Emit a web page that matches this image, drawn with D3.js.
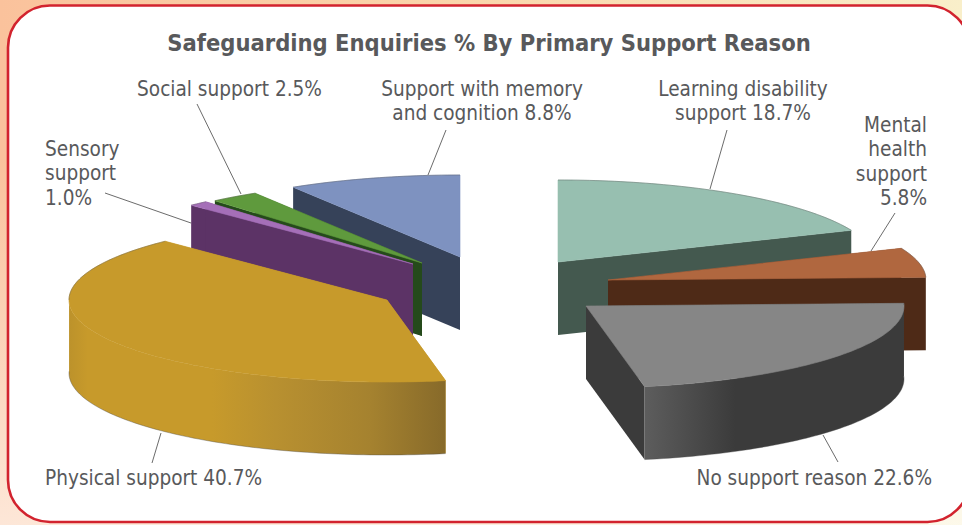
<!DOCTYPE html>
<html>
<head>
<meta charset="utf-8">
<title>Safeguarding Enquiries % By Primary Support Reason</title>
<script src="https://cdn.jsdelivr.net/npm/d3@7"></script>
<style>
  html, body { margin: 0; padding: 0; background: #fff; }
  svg { display: block; }
  text { font-family: "DejaVu Sans", Verdana, sans-serif; font-stretch: condensed; fill: #58595b; }
</style>
</head>
<body>
<svg id="chart" width="962" height="525"></svg>
<script>
// Slice values, clockwise from twelve o'clock
const categories = [
  "Learning disability support",
  "Mental health support",
  "No support reason",
  "Physical support",
  "Sensory support",
  "Social support",
  "Support with memory and cognition"
];
const percentages = [18.7, 5.8, 22.6, 40.7, 1.0, 2.5, 8.8];
const chartTitle = "Safeguarding Enquiries % By Primary Support Reason";

// Label text broken into the lines it is set on
const labelLines = [
  ["Learning disability", "support 18.7%"],
  ["Mental", "health", "support", "5.8%"],
  ["No support reason 22.6%"],
  ["Physical support 40.7%"],
  ["Sensory", "support", "1.0%"],
  ["Social support 2.5%"],
  ["Support with memory", "and cognition 8.8%"]
];

// Appearance of each slice
const topColors  = ["#97bfb0", "#b0673f", "#868686", "#c79a2b", "#a56fb8", "#5f9a3d", "#7e92c0"];
const wallStops  = [
  [["#44594f", 0], ["#44594f", 1]],
  [["#4e2a17", 0], ["#4e2a17", 1]],
  [["#5d5d5d", 0], ["#3b3b3b", 0.35], ["#3b3b3b", 1]],
  [["#bc922b", 0], ["#c79a2b", 0.05], ["#c79a2b", 0.38], ["#b89030", 0.55], ["#a5822f", 0.8], ["#876a2a", 1]],
  [["#5c3366", 0], ["#5c3366", 1]],
  [["#254a1b", 0], ["#254a1b", 1]],
  [["#364259", 0], ["#364259", 1]]
];
const cutColors = ["#44594f", "#4e2a17", "#3b3b3b", "#c79a2b", "#5c3366", "#254a1b", "#364259"];

// Exploded slice tips on the page
const tips = [[558, 262], [608, 280], [586, 306], [387, 300], [413, 264], [422, 263], [460, 257]];

// Back-to-front paint order
const paintOrder = [6, 5, 4, 0, 1, 2, 3];

// Label anchors: x, first baseline, text-anchor
const labelAnchors = [
  [743, 96, "middle"], [927, 132, "end"], [932, 485, "end"], [45, 485, "start"],
  [45, 156, "start"], [229.5, 96, "middle"], [482, 96, "middle"]
];
// Leader lines from label to slice
const leaders = [
  [[727, 130], [710, 189]], [[895, 213], [871, 251]], [[838, 462], [823, 435]],
  [[152, 463], [161, 433]], [[105, 193], [191, 223]], [[197, 104], [241, 194]],
  [[446, 130], [428, 175]]
];

const width = 962, height = 525;
const radiusX = 318, radiusY = 82, depth = 73;

const svg = d3.select("#chart");
const defs = svg.append("defs");

// Warm page wash behind the card
const wash = defs.append("linearGradient").attr("id", "wash");
wash.append("stop").attr("offset", 0).attr("stop-color", "#fac29c");
wash.append("stop").attr("offset", 0.5).attr("stop-color", "#fad7ac");
wash.append("stop").attr("offset", 1).attr("stop-color", "#f9efca");
const fade = defs.append("linearGradient").attr("id", "fade").attr("x2", 0).attr("y2", 1);
fade.append("stop").attr("offset", 0.3).attr("stop-color", "#fff").attr("stop-opacity", 0);
fade.append("stop").attr("offset", 1).attr("stop-color", "#fff").attr("stop-opacity", 0.6);

svg.append("rect").attr("width", width).attr("height", height).attr("fill", "url(#wash)");
svg.append("rect").attr("width", width).attr("height", height).attr("fill", "url(#fade)");

svg.append("rect")
  .attr("x", 8).attr("y", 5.5).attr("width", 961.5).attr("height", 516.5)
  .attr("rx", 42).attr("ry", 42)
  .attr("fill", "#fff").attr("stroke", "#d2232e").attr("stroke-width", 2.6);

svg.append("text")
  .attr("x", 489).attr("y", 50.5)
  .attr("text-anchor", "middle")
  .attr("font-size", 23.5).attr("font-weight", "bold")
  .text(chartTitle);

const pie = d3.pie().sort(null).value(d => d);
const arcs = pie(percentages);

// Project a pie angle onto the tilted disc, relative to a slice tip
const rimX = (tip, a) => tip[0] + radiusX * Math.sin(a);
const rimY = (tip, a) => tip[1] - radiusY * Math.cos(a);

const rimAngles = d => {
  const n = Math.max(8, Math.ceil((d.endAngle - d.startAngle) / 0.02));
  return d3.range(n + 1).map(i => d.startAngle + (d.endAngle - d.startAngle) * i / n);
};

const polygon = d3.line();
const layer = svg.append("g");

paintOrder.forEach(i => {
  const d = arcs[i], tip = tips[i];
  const group = layer.append("g").attr("class", "slice").attr("data-name", categories[i]);
  const angles = rimAngles(d);

  // Cut faces
  [d.startAngle, d.endAngle].forEach(a => {
    const rim = [rimX(tip, a), rimY(tip, a)];
    group.append("path")
      .attr("d", polygon([tip, rim, [rim[0], rim[1] + depth], [tip[0], tip[1] + depth]]) + "Z")
      .attr("fill", cutColors[i]);
  });

  // Curved outer wall: only the front half of the rim faces the viewer
  const frontAngles = angles.filter(a => Math.cos(a) < 0.04);
  if (frontAngles.length > 1) {
    const x0 = d3.min(frontAngles, a => rimX(tip, a)), x1 = d3.max(frontAngles, a => rimX(tip, a));
    const gradient = defs.append("linearGradient")
      .attr("id", "wall" + i).attr("gradientUnits", "userSpaceOnUse")
      .attr("x1", x0).attr("x2", x1).attr("y1", 0).attr("y2", 0);
    wallStops[i].forEach(([color, at]) =>
      gradient.append("stop").attr("offset", at).attr("stop-color", color));

    const wall = d3.area()
      .x(a => rimX(tip, a))
      .y0(a => rimY(tip, a))
      .y1(a => rimY(tip, a) + depth);
    group.append("path").attr("d", wall(frontAngles)).attr("fill", `url(#wall${i})`);

    // Fine edge along the foot of the wall
    group.append("path")
      .attr("d", d3.line().x(a => rimX(tip, a)).y(a => rimY(tip, a) + depth)(frontAngles))
      .attr("fill", "none").attr("stroke", "#4a4a4a").attr("stroke-opacity", 0.55).attr("stroke-width", 0.7);
  }

  // Top face
  const outline = [tip].concat(angles.map(a => [rimX(tip, a), rimY(tip, a)]));
  group.append("path")
    .attr("d", polygon(outline) + "Z")
    .attr("fill", topColors[i])
    .attr("stroke", topColors[i]).attr("stroke-width", 0.6);

  // Fine edge along the far part of the rim
  const backRim = angles.filter(a => Math.cos(a) > 0).map(a => [rimX(tip, a), rimY(tip, a)]);
  if (backRim.length > 1) {
    group.append("path")
      .attr("d", polygon(backRim))
      .attr("fill", "none").attr("stroke", "#4a4a4a")
      .attr("stroke-opacity", 0.5).attr("stroke-width", 0.7);
  }
});

// Leader lines
svg.append("g").selectAll("line").data(leaders).join("line")
  .attr("x1", d => d[0][0]).attr("y1", d => d[0][1])
  .attr("x2", d => d[1][0]).attr("y2", d => d[1][1])
  .attr("stroke", "#5a5a5a").attr("stroke-width", 0.9);

// Labels
const labels = svg.append("g").selectAll("text").data(labelLines).join("text")
  .attr("font-size", 20.6)
  .attr("text-anchor", (d, i) => labelAnchors[i][2])
  .attr("y", (d, i) => labelAnchors[i][1]);
labels.selectAll("tspan").data((d, i) => d.map(line => ({ line, x: labelAnchors[i][0] }))).join("tspan")
  .attr("x", d => d.x)
  .attr("dy", (d, i) => i === 0 ? 0 : 24.4)
  .text(d => d.line);
</script>
</body>
</html>
